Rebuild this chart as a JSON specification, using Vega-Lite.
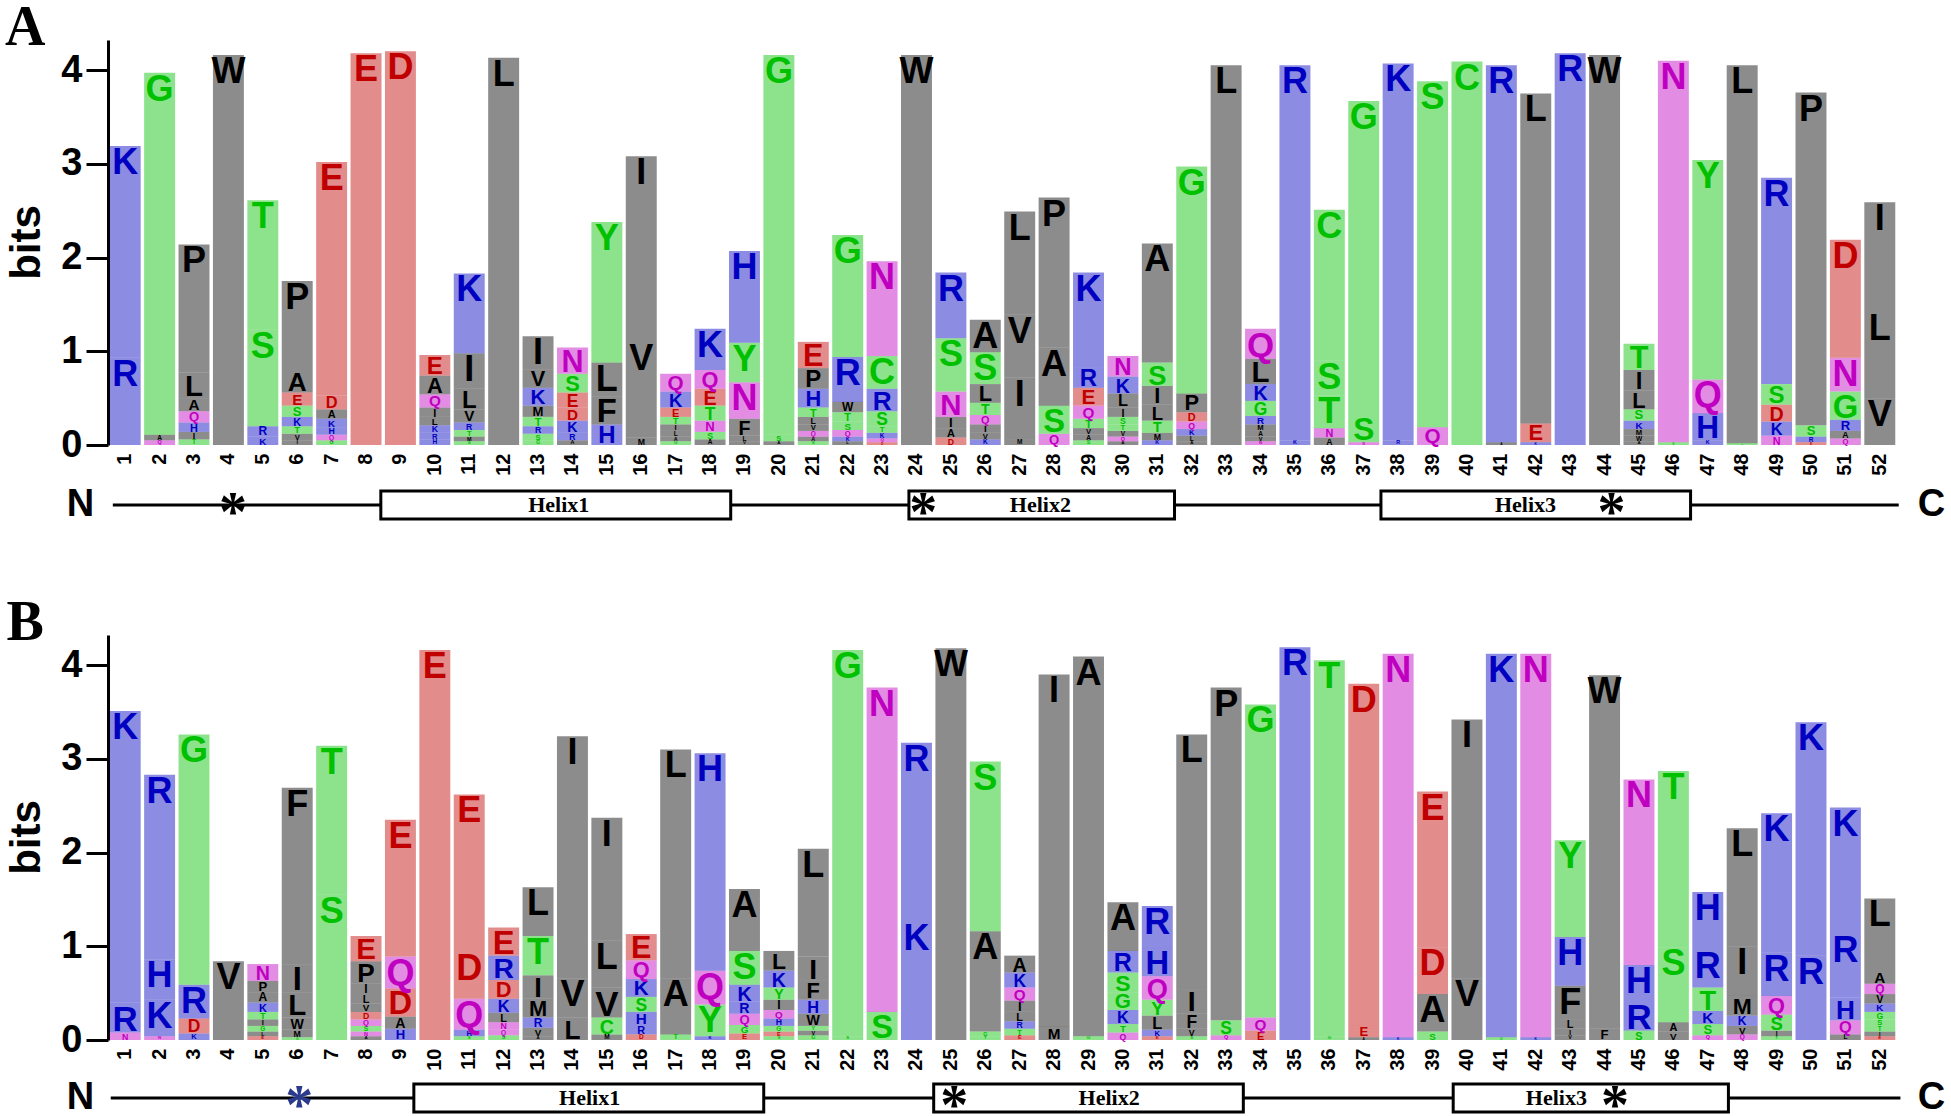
{
"$schema": "https://vega.github.io/schema/vega-lite/v6.json",
"background": "white",
"padding": {"left": 4, "top": 0, "right": 0, "bottom": 0},
"config": {"view": {"stroke": null}, "axis": {"grid": false}},
"datasets": {
"logoA": [
{"pos":1,"aa":"R","bits":0.93},{"pos":1,"aa":"K","bits":2.26},
{"pos":2,"aa":"Q","bits":0.05},{"pos":2,"aa":"A","bits":0.06},{"pos":2,"aa":"G","bits":3.86},
{"pos":3,"aa":"T","bits":0.06},{"pos":3,"aa":"I","bits":0.08},{"pos":3,"aa":"H","bits":0.10},{"pos":3,"aa":"Q","bits":0.12},{"pos":3,"aa":"A","bits":0.14},{"pos":3,"aa":"L","bits":0.27},{"pos":3,"aa":"P","bits":1.37},
{"pos":4,"aa":"W","bits":4.16},
{"pos":5,"aa":"K","bits":0.09},{"pos":5,"aa":"R","bits":0.11},{"pos":5,"aa":"S","bits":1.03},{"pos":5,"aa":"T","bits":1.38},
{"pos":6,"aa":"I","bits":0.05},{"pos":6,"aa":"V","bits":0.07},{"pos":6,"aa":"T","bits":0.08},{"pos":6,"aa":"K","bits":0.10},{"pos":6,"aa":"S","bits":0.12},{"pos":6,"aa":"E","bits":0.14},{"pos":6,"aa":"A","bits":0.24},{"pos":6,"aa":"P","bits":0.95},
{"pos":7,"aa":"G","bits":0.05},{"pos":7,"aa":"Q","bits":0.06},{"pos":7,"aa":"H","bits":0.08},{"pos":7,"aa":"K","bits":0.09},{"pos":7,"aa":"A","bits":0.10},{"pos":7,"aa":"D","bits":0.15},{"pos":7,"aa":"E","bits":2.49},
{"pos":8,"aa":"E","bits":4.18},
{"pos":9,"aa":"D","bits":4.20},
{"pos":10,"aa":"H","bits":0.06},{"pos":10,"aa":"R","bits":0.07},{"pos":10,"aa":"K","bits":0.08},{"pos":10,"aa":"L","bits":0.09},{"pos":10,"aa":"I","bits":0.10},{"pos":10,"aa":"Q","bits":0.14},{"pos":10,"aa":"A","bits":0.20},{"pos":10,"aa":"E","bits":0.22},
{"pos":11,"aa":"S","bits":0.04},{"pos":11,"aa":"M","bits":0.05},{"pos":11,"aa":"T","bits":0.07},{"pos":11,"aa":"R","bits":0.08},{"pos":11,"aa":"V","bits":0.14},{"pos":11,"aa":"L","bits":0.22},{"pos":11,"aa":"I","bits":0.38},{"pos":11,"aa":"K","bits":0.85},
{"pos":12,"aa":"L","bits":4.13},
{"pos":13,"aa":"G","bits":0.05},{"pos":13,"aa":"S","bits":0.07},{"pos":13,"aa":"R","bits":0.08},{"pos":13,"aa":"T","bits":0.10},{"pos":13,"aa":"M","bits":0.12},{"pos":13,"aa":"K","bits":0.19},{"pos":13,"aa":"V","bits":0.20},{"pos":13,"aa":"I","bits":0.35},
{"pos":14,"aa":"A","bits":0.05},{"pos":14,"aa":"R","bits":0.08},{"pos":14,"aa":"K","bits":0.13},{"pos":14,"aa":"D","bits":0.14},{"pos":14,"aa":"E","bits":0.16},{"pos":14,"aa":"S","bits":0.20},{"pos":14,"aa":"N","bits":0.28},
{"pos":15,"aa":"H","bits":0.22},{"pos":15,"aa":"F","bits":0.30},{"pos":15,"aa":"L","bits":0.36},{"pos":15,"aa":"Y","bits":1.50},
{"pos":16,"aa":"M","bits":0.08},{"pos":16,"aa":"V","bits":1.02},{"pos":16,"aa":"I","bits":1.98},
{"pos":17,"aa":"G","bits":0.04},{"pos":17,"aa":"A","bits":0.05},{"pos":17,"aa":"L","bits":0.06},{"pos":17,"aa":"I","bits":0.07},{"pos":17,"aa":"T","bits":0.08},{"pos":17,"aa":"E","bits":0.10},{"pos":17,"aa":"K","bits":0.17},{"pos":17,"aa":"Q","bits":0.19},
{"pos":18,"aa":"A","bits":0.06},{"pos":18,"aa":"S","bits":0.08},{"pos":18,"aa":"N","bits":0.12},{"pos":18,"aa":"T","bits":0.16},{"pos":18,"aa":"E","bits":0.18},{"pos":18,"aa":"Q","bits":0.20},{"pos":18,"aa":"K","bits":0.44},
{"pos":19,"aa":"V","bits":0.04},{"pos":19,"aa":"L","bits":0.06},{"pos":19,"aa":"F","bits":0.18},{"pos":19,"aa":"N","bits":0.39},{"pos":19,"aa":"Y","bits":0.42},{"pos":19,"aa":"H","bits":0.98},
{"pos":20,"aa":"A","bits":0.04},{"pos":20,"aa":"S","bits":0.07},{"pos":20,"aa":"G","bits":4.05},
{"pos":21,"aa":"S","bits":0.04},{"pos":21,"aa":"A","bits":0.05},{"pos":21,"aa":"Q","bits":0.06},{"pos":21,"aa":"V","bits":0.07},{"pos":21,"aa":"L","bits":0.08},{"pos":21,"aa":"T","bits":0.10},{"pos":21,"aa":"H","bits":0.20},{"pos":21,"aa":"P","bits":0.22},{"pos":21,"aa":"E","bits":0.28},
{"pos":22,"aa":"L","bits":0.04},{"pos":22,"aa":"K","bits":0.05},{"pos":22,"aa":"Q","bits":0.07},{"pos":22,"aa":"S","bits":0.09},{"pos":22,"aa":"T","bits":0.10},{"pos":22,"aa":"W","bits":0.11},{"pos":22,"aa":"R","bits":0.48},{"pos":22,"aa":"G","bits":1.30},
{"pos":23,"aa":"D","bits":0.03},{"pos":23,"aa":"Q","bits":0.04},{"pos":23,"aa":"K","bits":0.06},{"pos":23,"aa":"T","bits":0.07},{"pos":23,"aa":"S","bits":0.16},{"pos":23,"aa":"R","bits":0.24},{"pos":23,"aa":"C","bits":0.35},{"pos":23,"aa":"N","bits":1.01},
{"pos":24,"aa":"W","bits":4.16},
{"pos":25,"aa":"D","bits":0.08},{"pos":25,"aa":"A","bits":0.10},{"pos":25,"aa":"I","bits":0.12},{"pos":25,"aa":"N","bits":0.27},{"pos":25,"aa":"S","bits":0.57},{"pos":25,"aa":"R","bits":0.70},
{"pos":26,"aa":"K","bits":0.06},{"pos":26,"aa":"V","bits":0.07},{"pos":26,"aa":"I","bits":0.09},{"pos":26,"aa":"Q","bits":0.10},{"pos":26,"aa":"T","bits":0.13},{"pos":26,"aa":"L","bits":0.20},{"pos":26,"aa":"S","bits":0.34},{"pos":26,"aa":"A","bits":0.345},
{"pos":27,"aa":"M","bits":0.06},{"pos":27,"aa":"I","bits":0.66},{"pos":27,"aa":"V","bits":0.67},{"pos":27,"aa":"L","bits":1.10},
{"pos":28,"aa":"Q","bits":0.12},{"pos":28,"aa":"S","bits":0.30},{"pos":28,"aa":"A","bits":0.62},{"pos":28,"aa":"P","bits":1.60},
{"pos":29,"aa":"S","bits":0.05},{"pos":29,"aa":"A","bits":0.06},{"pos":29,"aa":"V","bits":0.07},{"pos":29,"aa":"T","bits":0.10},{"pos":29,"aa":"Q","bits":0.14},{"pos":29,"aa":"E","bits":0.19},{"pos":29,"aa":"R","bits":0.22},{"pos":29,"aa":"K","bits":1.01},
{"pos":30,"aa":"A","bits":0.04},{"pos":30,"aa":"Q","bits":0.05},{"pos":30,"aa":"V","bits":0.06},{"pos":30,"aa":"T","bits":0.07},{"pos":30,"aa":"S","bits":0.08},{"pos":30,"aa":"I","bits":0.10},{"pos":30,"aa":"L","bits":0.15},{"pos":30,"aa":"K","bits":0.18},{"pos":30,"aa":"N","bits":0.22},
{"pos":31,"aa":"K","bits":0.05},{"pos":31,"aa":"M","bits":0.08},{"pos":31,"aa":"T","bits":0.13},{"pos":31,"aa":"L","bits":0.17},{"pos":31,"aa":"I","bits":0.20},{"pos":31,"aa":"S","bits":0.25},{"pos":31,"aa":"A","bits":1.27},
{"pos":32,"aa":"A","bits":0.04},{"pos":32,"aa":"L","bits":0.06},{"pos":32,"aa":"K","bits":0.07},{"pos":32,"aa":"Q","bits":0.08},{"pos":32,"aa":"D","bits":0.10},{"pos":32,"aa":"P","bits":0.20},{"pos":32,"aa":"G","bits":2.42},
{"pos":33,"aa":"L","bits":4.05},
{"pos":34,"aa":"N","bits":0.04},{"pos":34,"aa":"V","bits":0.05},{"pos":34,"aa":"A","bits":0.06},{"pos":34,"aa":"M","bits":0.07},{"pos":34,"aa":"R","bits":0.09},{"pos":34,"aa":"G","bits":0.16},{"pos":34,"aa":"K","bits":0.18},{"pos":34,"aa":"L","bits":0.27},{"pos":34,"aa":"Q","bits":0.32},
{"pos":35,"aa":"K","bits":0.05},{"pos":35,"aa":"R","bits":4.00},
{"pos":36,"aa":"A","bits":0.08},{"pos":36,"aa":"N","bits":0.10},{"pos":36,"aa":"T","bits":0.35},{"pos":36,"aa":"S","bits":0.37},{"pos":36,"aa":"C","bits":1.61},
{"pos":37,"aa":"N","bits":0.03},{"pos":37,"aa":"S","bits":0.29},{"pos":37,"aa":"G","bits":3.35},
{"pos":38,"aa":"R","bits":0.05},{"pos":38,"aa":"K","bits":4.02},
{"pos":39,"aa":"Q","bits":0.19},{"pos":39,"aa":"S","bits":3.69},
{"pos":40,"aa":"C","bits":4.09},
{"pos":41,"aa":"A","bits":0.03},{"pos":41,"aa":"R","bits":4.02},
{"pos":42,"aa":"K","bits":0.03},{"pos":42,"aa":"E","bits":0.20},{"pos":42,"aa":"L","bits":3.52},
{"pos":43,"aa":"R","bits":4.18},
{"pos":44,"aa":"W","bits":4.16},
{"pos":45,"aa":"A","bits":0.04},{"pos":45,"aa":"W","bits":0.06},{"pos":45,"aa":"M","bits":0.07},{"pos":45,"aa":"K","bits":0.09},{"pos":45,"aa":"S","bits":0.12},{"pos":45,"aa":"L","bits":0.20},{"pos":45,"aa":"I","bits":0.22},{"pos":45,"aa":"T","bits":0.28},
{"pos":46,"aa":"S","bits":0.03},{"pos":46,"aa":"N","bits":4.07},
{"pos":47,"aa":"K","bits":0.05},{"pos":47,"aa":"H","bits":0.29},{"pos":47,"aa":"Q","bits":0.36},{"pos":47,"aa":"Y","bits":2.34},
{"pos":48,"aa":"S","bits":0.02},{"pos":48,"aa":"L","bits":4.03},
{"pos":49,"aa":"N","bits":0.10},{"pos":49,"aa":"K","bits":0.15},{"pos":49,"aa":"D","bits":0.18},{"pos":49,"aa":"S","bits":0.22},{"pos":49,"aa":"R","bits":2.20},
{"pos":50,"aa":"E","bits":0.03},{"pos":50,"aa":"R","bits":0.06},{"pos":50,"aa":"S","bits":0.12},{"pos":50,"aa":"P","bits":3.55},
{"pos":51,"aa":"Q","bits":0.07},{"pos":51,"aa":"A","bits":0.08},{"pos":51,"aa":"R","bits":0.12},{"pos":51,"aa":"G","bits":0.30},{"pos":51,"aa":"N","bits":0.36},{"pos":51,"aa":"D","bits":1.26},
{"pos":52,"aa":"V","bits":0.50},{"pos":52,"aa":"L","bits":0.92},{"pos":52,"aa":"I","bits":1.17}
],
"logoB": [
{"pos":1,"aa":"N","bits":0.08},{"pos":1,"aa":"R","bits":0.32},{"pos":1,"aa":"K","bits":3.11},
{"pos":2,"aa":"N","bits":0.04},{"pos":2,"aa":"K","bits":0.39},{"pos":2,"aa":"H","bits":0.43},{"pos":2,"aa":"R","bits":1.97},
{"pos":3,"aa":"K","bits":0.07},{"pos":3,"aa":"D","bits":0.16},{"pos":3,"aa":"R","bits":0.36},{"pos":3,"aa":"G","bits":2.67},
{"pos":4,"aa":"V","bits":0.84},
{"pos":5,"aa":"E","bits":0.04},{"pos":5,"aa":"L","bits":0.05},{"pos":5,"aa":"G","bits":0.06},{"pos":5,"aa":"I","bits":0.07},{"pos":5,"aa":"T","bits":0.08},{"pos":5,"aa":"K","bits":0.10},{"pos":5,"aa":"A","bits":0.11},{"pos":5,"aa":"P","bits":0.12},{"pos":5,"aa":"N","bits":0.18},
{"pos":6,"aa":"G","bits":0.03},{"pos":6,"aa":"M","bits":0.08},{"pos":6,"aa":"W","bits":0.13},{"pos":6,"aa":"L","bits":0.27},{"pos":6,"aa":"I","bits":0.30},{"pos":6,"aa":"F","bits":1.88},
{"pos":7,"aa":"S","bits":1.55},{"pos":7,"aa":"T","bits":1.59},
{"pos":8,"aa":"A","bits":0.04},{"pos":8,"aa":"N","bits":0.05},{"pos":8,"aa":"S","bits":0.06},{"pos":8,"aa":"Q","bits":0.07},{"pos":8,"aa":"D","bits":0.08},{"pos":8,"aa":"V","bits":0.09},{"pos":8,"aa":"L","bits":0.10},{"pos":8,"aa":"I","bits":0.11},{"pos":8,"aa":"P","bits":0.24},{"pos":8,"aa":"E","bits":0.27},
{"pos":9,"aa":"H","bits":0.12},{"pos":9,"aa":"A","bits":0.13},{"pos":9,"aa":"D","bits":0.30},{"pos":9,"aa":"Q","bits":0.34},{"pos":9,"aa":"E","bits":1.46},
{"pos":10,"aa":"E","bits":4.16},
{"pos":11,"aa":"S","bits":0.04},{"pos":11,"aa":"H","bits":0.07},{"pos":11,"aa":"Q","bits":0.33},{"pos":11,"aa":"D","bits":0.50},{"pos":11,"aa":"E","bits":1.68},
{"pos":12,"aa":"S","bits":0.05},{"pos":12,"aa":"Q","bits":0.06},{"pos":12,"aa":"N","bits":0.08},{"pos":12,"aa":"L","bits":0.10},{"pos":12,"aa":"K","bits":0.15},{"pos":12,"aa":"D","bits":0.20},{"pos":12,"aa":"R","bits":0.26},{"pos":12,"aa":"E","bits":0.30},
{"pos":13,"aa":"A","bits":0.04},{"pos":13,"aa":"V","bits":0.09},{"pos":13,"aa":"R","bits":0.11},{"pos":13,"aa":"M","bits":0.20},{"pos":13,"aa":"I","bits":0.25},{"pos":13,"aa":"T","bits":0.42},{"pos":13,"aa":"L","bits":0.52},
{"pos":14,"aa":"L","bits":0.24},{"pos":14,"aa":"V","bits":0.42},{"pos":14,"aa":"I","bits":2.58},
{"pos":15,"aa":"M","bits":0.06},{"pos":15,"aa":"C","bits":0.18},{"pos":15,"aa":"V","bits":0.32},{"pos":15,"aa":"L","bits":0.50},{"pos":15,"aa":"I","bits":1.31},
{"pos":16,"aa":"D","bits":0.06},{"pos":16,"aa":"R","bits":0.10},{"pos":16,"aa":"H","bits":0.14},{"pos":16,"aa":"S","bits":0.16},{"pos":16,"aa":"K","bits":0.19},{"pos":16,"aa":"Q","bits":0.20},{"pos":16,"aa":"E","bits":0.28},
{"pos":17,"aa":"T","bits":0.06},{"pos":17,"aa":"A","bits":0.60},{"pos":17,"aa":"L","bits":2.44},
{"pos":18,"aa":"K","bits":0.04},{"pos":18,"aa":"Y","bits":0.34},{"pos":18,"aa":"Q","bits":0.36},{"pos":18,"aa":"H","bits":2.32},
{"pos":19,"aa":"E","bits":0.07},{"pos":19,"aa":"G","bits":0.09},{"pos":19,"aa":"Q","bits":0.12},{"pos":19,"aa":"R","bits":0.13},{"pos":19,"aa":"K","bits":0.18},{"pos":19,"aa":"S","bits":0.36},{"pos":19,"aa":"A","bits":0.66},
{"pos":20,"aa":"S","bits":0.04},{"pos":20,"aa":"E","bits":0.05},{"pos":20,"aa":"G","bits":0.06},{"pos":20,"aa":"H","bits":0.08},{"pos":20,"aa":"Q","bits":0.09},{"pos":20,"aa":"I","bits":0.11},{"pos":20,"aa":"Y","bits":0.13},{"pos":20,"aa":"K","bits":0.18},{"pos":20,"aa":"L","bits":0.21},
{"pos":21,"aa":"G","bits":0.05},{"pos":21,"aa":"V","bits":0.05},{"pos":21,"aa":"Y","bits":0.05},{"pos":21,"aa":"W","bits":0.13},{"pos":21,"aa":"H","bits":0.15},{"pos":21,"aa":"F","bits":0.20},{"pos":21,"aa":"I","bits":0.26},{"pos":21,"aa":"L","bits":1.15},
{"pos":22,"aa":"S","bits":0.04},{"pos":22,"aa":"G","bits":4.12},
{"pos":23,"aa":"S","bits":0.30},{"pos":23,"aa":"N","bits":3.46},
{"pos":24,"aa":"K","bits":1.26},{"pos":24,"aa":"R","bits":1.91},
{"pos":25,"aa":"W","bits":4.18},
{"pos":26,"aa":"T","bits":0.04},{"pos":26,"aa":"G","bits":0.05},{"pos":26,"aa":"A","bits":1.07},{"pos":26,"aa":"S","bits":1.81},
{"pos":27,"aa":"E","bits":0.05},{"pos":27,"aa":"T","bits":0.07},{"pos":27,"aa":"R","bits":0.08},{"pos":27,"aa":"L","bits":0.10},{"pos":27,"aa":"I","bits":0.12},{"pos":27,"aa":"Q","bits":0.14},{"pos":27,"aa":"K","bits":0.16},{"pos":27,"aa":"A","bits":0.18},
{"pos":28,"aa":"M","bits":0.14},{"pos":28,"aa":"I","bits":3.76},
{"pos":29,"aa":"G","bits":0.04},{"pos":29,"aa":"A","bits":4.05},
{"pos":30,"aa":"Q","bits":0.08},{"pos":30,"aa":"T","bits":0.09},{"pos":30,"aa":"K","bits":0.15},{"pos":30,"aa":"G","bits":0.19},{"pos":30,"aa":"S","bits":0.21},{"pos":30,"aa":"R","bits":0.23},{"pos":30,"aa":"A","bits":0.52},
{"pos":31,"aa":"E","bits":0.04},{"pos":31,"aa":"K","bits":0.07},{"pos":31,"aa":"L","bits":0.15},{"pos":31,"aa":"Y","bits":0.17},{"pos":31,"aa":"Q","bits":0.25},{"pos":31,"aa":"H","bits":0.30},{"pos":31,"aa":"R","bits":0.45},
{"pos":32,"aa":"S","bits":0.04},{"pos":32,"aa":"V","bits":0.08},{"pos":32,"aa":"F","bits":0.16},{"pos":32,"aa":"I","bits":0.26},{"pos":32,"aa":"L","bits":2.72},
{"pos":33,"aa":"Q","bits":0.05},{"pos":33,"aa":"S","bits":0.16},{"pos":33,"aa":"P","bits":3.55},
{"pos":34,"aa":"E","bits":0.10},{"pos":34,"aa":"Q","bits":0.14},{"pos":34,"aa":"G","bits":3.34},
{"pos":35,"aa":"R","bits":4.19},
{"pos":36,"aa":"G","bits":0.04},{"pos":36,"aa":"T","bits":4.01},
{"pos":37,"aa":"A","bits":0.03},{"pos":37,"aa":"E","bits":0.12},{"pos":37,"aa":"D","bits":3.65},
{"pos":38,"aa":"K","bits":0.03},{"pos":38,"aa":"N","bits":4.09},
{"pos":39,"aa":"S","bits":0.09},{"pos":39,"aa":"A","bits":0.40},{"pos":39,"aa":"D","bits":0.50},{"pos":39,"aa":"E","bits":1.66},
{"pos":40,"aa":"V","bits":0.66},{"pos":40,"aa":"I","bits":2.76},
{"pos":41,"aa":"G","bits":0.03},{"pos":41,"aa":"K","bits":4.09},
{"pos":42,"aa":"K","bits":0.03},{"pos":42,"aa":"N","bits":4.09},
{"pos":43,"aa":"V","bits":0.05},{"pos":43,"aa":"I","bits":0.07},{"pos":43,"aa":"L","bits":0.10},{"pos":43,"aa":"F","bits":0.36},{"pos":43,"aa":"H","bits":0.52},{"pos":43,"aa":"Y","bits":1.03},
{"pos":44,"aa":"F","bits":0.12},{"pos":44,"aa":"W","bits":3.77},
{"pos":45,"aa":"S","bits":0.10},{"pos":45,"aa":"R","bits":0.32},{"pos":45,"aa":"H","bits":0.38},{"pos":45,"aa":"N","bits":1.98},
{"pos":46,"aa":"V","bits":0.09},{"pos":46,"aa":"A","bits":0.10},{"pos":46,"aa":"S","bits":0.80},{"pos":46,"aa":"T","bits":1.88},
{"pos":47,"aa":"Q","bits":0.05},{"pos":47,"aa":"S","bits":0.12},{"pos":47,"aa":"K","bits":0.14},{"pos":47,"aa":"T","bits":0.25},{"pos":47,"aa":"R","bits":0.40},{"pos":47,"aa":"H","bits":0.62},
{"pos":48,"aa":"Q","bits":0.06},{"pos":48,"aa":"V","bits":0.09},{"pos":48,"aa":"K","bits":0.11},{"pos":48,"aa":"M","bits":0.21},{"pos":48,"aa":"I","bits":0.53},{"pos":48,"aa":"L","bits":1.26},
{"pos":49,"aa":"T","bits":0.04},{"pos":49,"aa":"I","bits":0.06},{"pos":49,"aa":"S","bits":0.17},{"pos":49,"aa":"Q","bits":0.20},{"pos":49,"aa":"R","bits":0.46},{"pos":49,"aa":"K","bits":1.49},
{"pos":50,"aa":"R","bits":0.90},{"pos":50,"aa":"K","bits":2.49},
{"pos":51,"aa":"L","bits":0.06},{"pos":51,"aa":"Q","bits":0.15},{"pos":51,"aa":"H","bits":0.24},{"pos":51,"aa":"R","bits":0.68},{"pos":51,"aa":"K","bits":1.35},
{"pos":52,"aa":"E","bits":0.04},{"pos":52,"aa":"I","bits":0.05},{"pos":52,"aa":"T","bits":0.06},{"pos":52,"aa":"S","bits":0.07},{"pos":52,"aa":"G","bits":0.08},{"pos":52,"aa":"K","bits":0.09},{"pos":52,"aa":"V","bits":0.10},{"pos":52,"aa":"Q","bits":0.11},{"pos":52,"aa":"A","bits":0.14},{"pos":52,"aa":"L","bits":0.77}
],
"lineA": [{"start":0.64,"end":52.55}],
"lineB": [{"start":0.58,"end":52.6}],
"helixA": [{"name":"Helix1","start":8.43,"end":18.6,"lx":13.6},{"name":"Helix2","start":23.78,"end":31.5,"lx":27.6},{"name":"Helix3","start":37.5,"end":46.5,"lx":41.7}],
"helixB": [{"name":"Helix1","start":9.39,"end":19.56,"lx":14.5},{"name":"Helix2","start":24.5,"end":33.5,"lx":29.6},{"name":"Helix3","start":39.6,"end":47.6,"lx":42.6}],
"starA": [{"x":4.13,"residue":"W"},{"x":24.2,"residue":"W"},{"x":44.2,"residue":"W"}],
"starB": [{"x":6.06,"residue":"F"},{"x":25.1,"residue":"W"},{"x":44.3,"residue":"W"}],
"ends": [{"label":"N","x":-0.3},{"label":"C","x":53.5}],
"panelA": [{"label":"A"}],
"panelB": [{"label":"B"}]
},
"bounds": "flush",
"spacing": 20,
"vconcat": [
{
"width": 1789, "height": 405,
"layer": [
{"data": {"name": "logoA"},
 "transform": [{"stack": "bits", "groupby": ["pos"], "sort": [{"field": "bits", "order": "ascending"}], "as": ["b0", "b1"]}],
 "mark": {"type": "bar", "opacity": 0.45},
 "encoding": {
  "x": {"field": "pos", "type": "ordinal", "scale": {"paddingInner": 0.1, "paddingOuter": 0.05},
   "axis": {"title": null, "labelAngle": 270, "labelFont": "Liberation Sans", "labelFontWeight": "bold", "labelFontSize": 20, "labelColor": "#000000", "labelPadding": 8, "ticks": false, "domain": false}},
  "y": {"field": "b0", "type": "quantitative", "title": "bits", "scale": {"domain": [0, 4.32], "nice": false, "zero": true},
   "axis": {"values": [0,1,2,3,4], "format": "d", "domainWidth": 3, "domainColor": "#000000", "tickWidth": 3, "tickColor": "#000000", "tickSize": 22, "labelPadding": 4, "labelFont": "Liberation Sans", "labelFontWeight": "bold", "labelFontSize": 38, "labelColor": "#000000", "titleFont": "Liberation Sans", "titleFontWeight": "bold", "titleFontSize": 42, "titleColor": "#000000", "titleAngle": 270, "titleAlign": "center", "titleBaseline": "middle", "titleX": -82, "titleY": 202}},
  "y2": {"field": "b1"},
  "color": {"field": "aa", "type": "nominal", "legend": null,
   "scale": {"domain": ["A","V","L","I","P","W","F","M","G","S","T","Y","C","K","R","H","D","E","N","Q"],
   "range": ["#000000","#000000","#000000","#000000","#000000","#000000","#000000","#000000","#00C000","#00C000","#00C000","#00C000","#00C000","#0000C0","#0000C0","#0000C0","#C00000","#C00000","#C000C0","#C000C0"]}}}},
{"data": {"name": "logoA"},
 "transform": [{"stack": "bits", "groupby": ["pos"], "sort": [{"field": "bits", "order": "ascending"}], "as": ["b0", "b1"]}],
 "mark": {"type": "text", "baseline": "top", "align": "center", "font": "Liberation Sans", "fontWeight": "bold"},
 "encoding": {
  "x": {"field": "pos", "type": "ordinal"},
  "y": {"field": "b1", "type": "quantitative", "title": "bits"},
  "text": {"field": "aa"},
  "color": {"field": "aa", "type": "nominal", "legend": null},
  "size": {"field": "bits", "type": "quantitative", "legend": null, "scale": {"domain": [0, 0.33], "range": [0, 36], "clamp": true}}}},
{"data": {"name": "panelA"},
 "mark": {"type": "text", "font": "Liberation Serif", "fontWeight": "bold", "fontSize": 56, "baseline": "middle", "align": "center", "dx": -100, "dy": -12, "color": "#000000"},
 "encoding": {"x": {"datum": 1, "type": "ordinal"}, "y": {"datum": 4.32, "type": "quantitative"}, "text": {"field": "label"}}}
]
},
{
"width": 1789, "height": 150,
"layer": [
{"data": {"name": "lineA"}, "mark": {"type": "rule", "strokeWidth": 3, "color": "#000000"},
 "encoding": {"x": {"field": "start", "type": "quantitative", "scale": {"domain": [0.5, 52.5], "nice": false, "zero": false}, "axis": null}, "x2": {"field": "end"},
  "y": {"datum": 0.5, "type": "quantitative", "scale": {"domain": [-3.429, 1.929], "nice": false, "zero": false}, "axis": null}}},
{"data": {"name": "helixA"}, "mark": {"type": "rect", "fill": "#ffffff", "stroke": "#000000", "strokeWidth": 3},
 "encoding": {"x": {"field": "start", "type": "quantitative"}, "x2": {"field": "end"}, "y": {"datum": 0, "type": "quantitative"}, "y2": {"datum": 1}}},
{"data": {"name": "helixA"}, "mark": {"type": "text", "font": "Liberation Serif", "fontWeight": "bold", "fontSize": 22, "baseline": "middle", "color": "#000000"},
 "encoding": {"x": {"field": "lx", "type": "quantitative"}, "y": {"datum": 0.5, "type": "quantitative"}, "text": {"field": "name"}}},
{"data": {"name": "starA"}, "mark": {"type": "text", "text": "*", "font": "Liberation Serif", "fontWeight": "bold", "fontSize": 56, "baseline": "middle", "dy": 9},
 "encoding": {"x": {"field": "x", "type": "quantitative"}, "y": {"datum": 0.5, "type": "quantitative"},
  "color": {"condition": {"test": "datum.residue === 'F'", "value": "#2B3A8C"}, "value": "#000000"}}},
{"data": {"name": "ends"}, "mark": {"type": "text", "font": "Liberation Sans", "fontWeight": "bold", "fontSize": 38, "baseline": "middle", "color": "#000000"},
 "encoding": {"x": {"field": "x", "type": "quantitative"}, "y": {"datum": 0.5, "type": "quantitative"}, "text": {"field": "label"}}}
]
},
{
"width": 1789, "height": 405,
"layer": [
{"data": {"name": "logoB"},
 "transform": [{"stack": "bits", "groupby": ["pos"], "sort": [{"field": "bits", "order": "ascending"}], "as": ["b0", "b1"]}],
 "mark": {"type": "bar", "opacity": 0.45},
 "encoding": {
  "x": {"field": "pos", "type": "ordinal", "scale": {"paddingInner": 0.1, "paddingOuter": 0.05},
   "axis": {"title": null, "labelAngle": 270, "labelFont": "Liberation Sans", "labelFontWeight": "bold", "labelFontSize": 20, "labelColor": "#000000", "labelPadding": 8, "ticks": false, "domain": false}},
  "y": {"field": "b0", "type": "quantitative", "title": "bits", "scale": {"domain": [0, 4.32], "nice": false, "zero": true},
   "axis": {"values": [0,1,2,3,4], "format": "d", "domainWidth": 3, "domainColor": "#000000", "tickWidth": 3, "tickColor": "#000000", "tickSize": 22, "labelPadding": 4, "labelFont": "Liberation Sans", "labelFontWeight": "bold", "labelFontSize": 38, "labelColor": "#000000", "titleFont": "Liberation Sans", "titleFontWeight": "bold", "titleFontSize": 42, "titleColor": "#000000", "titleAngle": 270, "titleAlign": "center", "titleBaseline": "middle", "titleX": -82, "titleY": 202}},
  "y2": {"field": "b1"},
  "color": {"field": "aa", "type": "nominal", "legend": null,
   "scale": {"domain": ["A","V","L","I","P","W","F","M","G","S","T","Y","C","K","R","H","D","E","N","Q"],
   "range": ["#000000","#000000","#000000","#000000","#000000","#000000","#000000","#000000","#00C000","#00C000","#00C000","#00C000","#00C000","#0000C0","#0000C0","#0000C0","#C00000","#C00000","#C000C0","#C000C0"]}}}},
{"data": {"name": "logoB"},
 "transform": [{"stack": "bits", "groupby": ["pos"], "sort": [{"field": "bits", "order": "ascending"}], "as": ["b0", "b1"]}],
 "mark": {"type": "text", "baseline": "top", "align": "center", "font": "Liberation Sans", "fontWeight": "bold"},
 "encoding": {
  "x": {"field": "pos", "type": "ordinal"},
  "y": {"field": "b1", "type": "quantitative", "title": "bits"},
  "text": {"field": "aa"},
  "color": {"field": "aa", "type": "nominal", "legend": null},
  "size": {"field": "bits", "type": "quantitative", "legend": null, "scale": {"domain": [0, 0.33], "range": [0, 36], "clamp": true}}}},
{"data": {"name": "panelB"},
 "mark": {"type": "text", "font": "Liberation Serif", "fontWeight": "bold", "fontSize": 56, "baseline": "middle", "align": "center", "dx": -100, "dy": -12, "color": "#000000"},
 "encoding": {"x": {"datum": 1, "type": "ordinal"}, "y": {"datum": 4.32, "type": "quantitative"}, "text": {"field": "label"}}}
]
},
{
"width": 1789, "height": 60,
"layer": [
{"data": {"name": "lineB"}, "mark": {"type": "rule", "strokeWidth": 3, "color": "#000000"},
 "encoding": {"x": {"field": "start", "type": "quantitative", "scale": {"domain": [0.5, 52.5], "nice": false, "zero": false}, "axis": null}, "x2": {"field": "end"},
  "y": {"datum": 0.5, "type": "quantitative", "scale": {"domain": [-0.286, 1.857], "nice": false, "zero": false}, "axis": null}}},
{"data": {"name": "helixB"}, "mark": {"type": "rect", "fill": "#ffffff", "stroke": "#000000", "strokeWidth": 3},
 "encoding": {"x": {"field": "start", "type": "quantitative"}, "x2": {"field": "end"}, "y": {"datum": 0, "type": "quantitative"}, "y2": {"datum": 1}}},
{"data": {"name": "helixB"}, "mark": {"type": "text", "font": "Liberation Serif", "fontWeight": "bold", "fontSize": 22, "baseline": "middle", "color": "#000000"},
 "encoding": {"x": {"field": "lx", "type": "quantitative"}, "y": {"datum": 0.5, "type": "quantitative"}, "text": {"field": "name"}}},
{"data": {"name": "starB"}, "mark": {"type": "text", "text": "*", "font": "Liberation Serif", "fontWeight": "bold", "fontSize": 56, "baseline": "middle", "dy": 9},
 "encoding": {"x": {"field": "x", "type": "quantitative"}, "y": {"datum": 0.5, "type": "quantitative"},
  "color": {"condition": {"test": "datum.residue === 'F'", "value": "#2B3A8C"}, "value": "#000000"}}},
{"data": {"name": "ends"}, "mark": {"type": "text", "font": "Liberation Sans", "fontWeight": "bold", "fontSize": 38, "baseline": "middle", "color": "#000000"},
 "encoding": {"x": {"field": "x", "type": "quantitative"}, "y": {"datum": 0.5, "type": "quantitative"}, "text": {"field": "label"}}}
]
}
]
}
